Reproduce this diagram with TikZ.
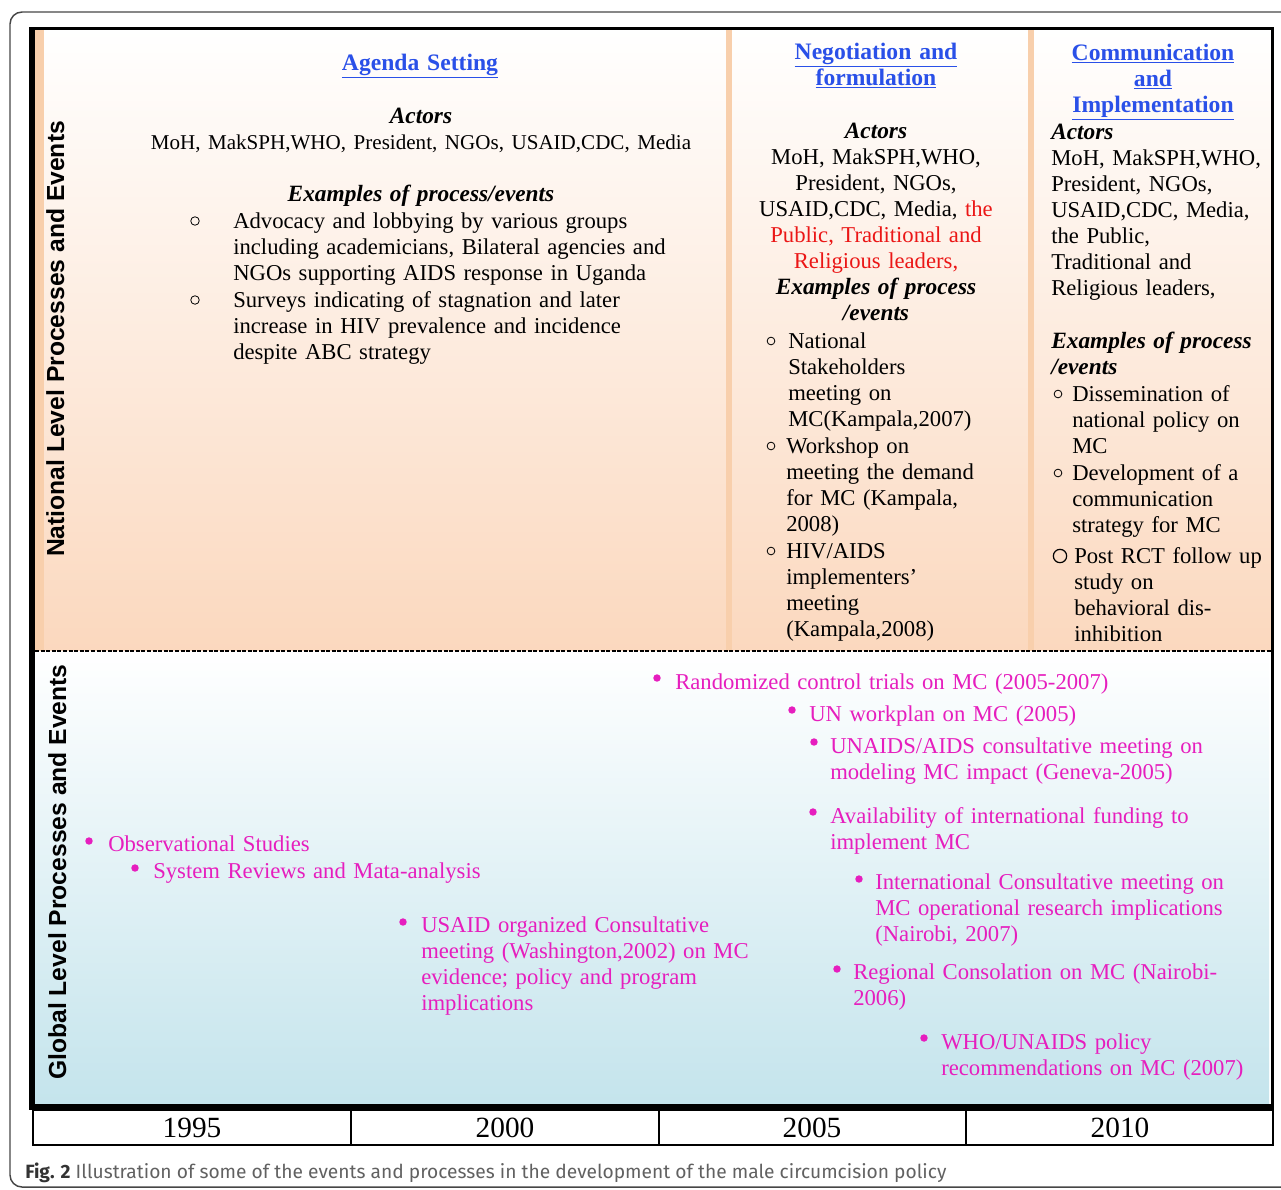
\documentclass[tikz,border=0pt]{standalone}
\usepackage{fontspec}
\setmainfont{Liberation Serif}
\newfontfamily\sidefont{Liberation Sans}
\newfontfamily\capfont{Fira Sans}

\definecolor{headblue}{RGB}{42,80,232}
\definecolor{evpink}{RGB}{230,30,190}
\definecolor{actred}{RGB}{235,22,22}
\definecolor{natpeach}{RGB}{251,216,190}
\definecolor{natstrip}{RGB}{248,207,172}
\definecolor{globblue}{RGB}{196,228,236}
\definecolor{framegray}{RGB}{70,70,70}

\newcommand{\bitext}[1]{{\fontsize{17.5}{19.6}\selectfont\bfseries\itshape #1}}

\begin{document}
\begin{tikzpicture}[x=0.75pt,y=-0.75pt,
    body/.style={inner sep=0pt, font=\fontsize{17}{19.6}\selectfont},
    phase/.style={inner sep=0pt, anchor=base, align=center, text=headblue, text width=220pt,
        font=\fontsize{17.7}{19.6}\selectfont\bfseries},
    block/.style={body, anchor=base, align=center, text width=#1},
    items/.style={body, anchor=base west, align=left, text width=#1},
    event/.style={body, anchor=base west, align=left, text=evpink, text width=#1},
    side/.style={inner sep=0pt, anchor=base, rotate=90,
        font=\sidefont\bfseries\fontsize{18.5}{20}\selectfont},
    year/.style={inner sep=0pt, font=\fontsize{22}{24}\selectfont}
]
    \useasboundingbox (0,0) rectangle (1281,1189);
    \draw[framegray, line width=1.1pt, rounded corners=9pt] (10,12) rectangle (1300,1187);

    % backgrounds of the two levels
    \shade[top color=white, bottom color=natpeach] (35,29) rectangle (1271,651);
    \shade[top color=white, bottom color=globblue] (35,651) rectangle (1269,1105);
    \fill[natstrip] (35,29) rectangle (44,651);
    \fill[natstrip] (726,29) rectangle (732,651);
    \fill[natstrip] (1028,29) rectangle (1034,651);

    % frame and time axis
    \fill (29,27) rectangle (1274,29.5);
    \fill (29,27) rectangle (35,1110);
    \fill (1270.5,27) rectangle (1274,1110);
    \fill (29,1104) rectangle (1274,1110);
    \draw[dash pattern=on 3pt off 1.2pt, line width=1pt] (35,651) -- (1271,651);
    \draw[line width=1.5pt] (33,1110) rectangle (1273,1145);
    \foreach \x in {351, 659, 966}
        \draw[line width=1.2pt] (\x,1110) -- (\x,1145);
    \foreach \yr/\cx in {1995/192, 2000/505, 2005/812, 2010/1120}
        \node[year] (y\yr) at (\cx,1128) {\yr};

    \node[side] (natlabel) at (64,339) {National Level Processes and Events};
    \node[side] (globlabel) at (66,872) {Global Level Processes and Events};

    % agenda setting
    \node[phase] (agenda) at (420,70) {\underline{Agenda Setting}};
    \node[block=480pt] (actorsA) at (421,123) {\bitext{Actors}\\
        {\fontsize{15.8}{19.6}\selectfont MoH, MakSPH,WHO, President, NGOs, USAID,CDC, Media}\\[19.6pt]
        \bitext{Examples of process/events}};
    \node[items=360pt] (advocacy) at (233,228) {Advocacy and lobbying by various groups\\
        including academicians, Bilateral agencies and\\ NGOs supporting AIDS response in Uganda};
    \node[items=360pt] (surveys) at (233,307) {Surveys indicating of stagnation and later\\
        increase in HIV prevalence and incidence\\ despite ABC strategy};

    % negotiation and formulation
    \node[phase] (negot) at (876,59) {\underline{Negotiation and}\\ \underline{formulation}};
    \node[block=220pt] (actorsB) at (876,138) {\bitext{Actors}\\ MoH, MakSPH,WHO,\\ President, NGOs,\\
        USAID,CDC, Media, \textcolor{actred}{the}\\ \textcolor{actred}{Public, Traditional and}\\
        \textcolor{actred}{Religious leaders,}\\ \bitext{Examples of process}\\ \bitext{/events}};
    \node[items=160pt] (stake) at (788,348) {National\\ Stakeholders\\ meeting on\\ MC(Kampala,2007)};
    \node[items=160pt] (workshop) at (786,453) {Workshop on\\ meeting the demand\\ for MC (Kampala,\\ 2008)};
    \node[items=160pt] (implem) at (786,558) {HIV/AIDS\\ implementers’\\ meeting\\ (Kampala,2008)};

    % communication and implementation
    \node[phase] (commun) at (1153,60) {\underline{Communication}\\ \underline{and}\\ \underline{Implementation}};
    \node[items=180pt] (actorsC) at (1051,139) {\bitext{Actors}\\ MoH, MakSPH,WHO,\\ President, NGOs,\\
        USAID,CDC, Media,\\ the Public,\\ Traditional and\\ Religious leaders,\\[19.6pt]
        \bitext{Examples of process}\\ \bitext{/events}};
    \node[items=160pt] (dissem) at (1072,401) {Dissemination of\\ national policy on\\ MC};
    \node[items=160pt] (develop) at (1072,480) {Development of a\\ communication\\ strategy for MC};
    \node[items=160pt] (postrct) at (1074,563) {Post RCT follow up\\ study on\\ behavioral dis-\\ inhibition};

    \foreach \bx/\by in {195/221, 195/300}
        \draw[line width=0.6pt] (\bx,\by) circle[radius=3.2pt];
    \foreach \bx/\by in {771/341, 771/446, 771/551, 1058/394, 1058/473}
        \draw[line width=0.6pt] (\bx,\by) circle[radius=2.9pt];
    \draw[line width=0.9pt] (1060,556) circle[radius=5pt];

    % global events
    \node[event=250pt] (obs) at (108,851) {Observational Studies};
    \node[event=300pt] (sysrev) at (153,878) {System Reviews and Mata-analysis};
    \node[event=300pt] (usaid) at (421,932) {USAID organized Consultative\\
        meeting (Washington,2002) on MC\\ evidence; policy and program\\ implications};
    \node[event=360pt] (rct) at (675,689) {Randomized control trials on MC (2005-2007)};
    \node[event=300pt] (unplan) at (809,721) {UN workplan on MC (2005)};
    \node[event=310pt] (unaids) at (830,753) {UNAIDS/AIDS consultative meeting on\\
        modeling MC impact (Geneva-2005)};
    \node[event=310pt] (funding) at (830,823) {Availability of international funding to\\ implement MC};
    \node[event=290pt] (intl) at (875,889) {International Consultative meeting on\\
        MC operational research implications\\ (Nairobi, 2007)};
    \node[event=300pt] (regional) at (853,979) {Regional Consolation on MC (Nairobi-\\ 2006)};
    \node[event=250pt] (whorec) at (941,1049) {WHO/UNAIDS policy\\ recommendations on MC (2007)};
    \foreach \bx/\by in {89/841, 135/868, 403/922, 657/678, 792/710, 814/742, 813/812,
                         859/879, 837/969, 924/1038}
        \fill[evpink] (\bx,\by) circle[radius=2.8pt];

    \node[anchor=base west, inner sep=0pt, font=\capfont\fontsize{14.4}{16}\selectfont,
        text=black!62] (caption) at (25,1178) {\textcolor{black!80}{\bfseries Fig. 2}
        Illustration of some of the events and processes in the development of the male circumcision policy};
\end{tikzpicture}
\end{document}
